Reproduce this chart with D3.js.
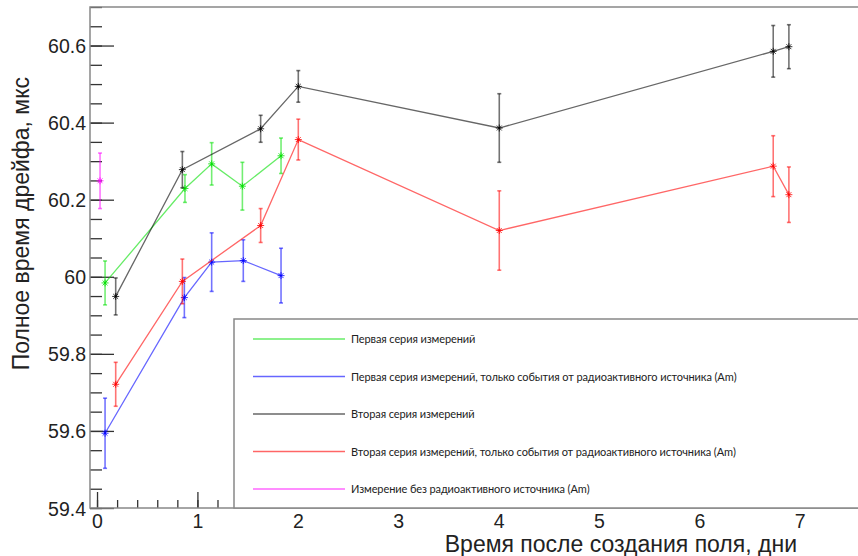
<!DOCTYPE html>
<html>
<head>
<meta charset="utf-8">
<script src="https://cdn.jsdelivr.net/npm/d3@7"></script>
<style>
  body { margin: 0; background: #fff; }
  svg { display: block; }
  .axis path { display: none; }
  .axis line { stroke: #333; stroke-width: 1.3; }
  .axis text { font-family: "Liberation Sans", Arial, sans-serif; font-size: 19.5px; fill: #222; }
</style>
</head>
<body>
<script>
var width = 858,
    height = 556;

// series data
var greenX = [0.08, 0.876, 1.142, 1.448, 1.833],
    greenY = [59.984, 60.229, 60.293, 60.235, 60.314],
    greenErr = [0.057, 0.036, 0.055, 0.062, 0.046];
var blueX = [0.08, 0.87, 1.142, 1.457, 1.833],
    blueY = [59.594, 59.946, 60.038, 60.042, 60.003],
    blueErr = [0.091, 0.052, 0.076, 0.054, 0.071];
var blackX = [0.186, 0.85, 1.63, 2.005, 4.007, 6.736, 6.892],
    blackY = [59.949, 60.278, 60.384, 60.494, 60.386, 60.585, 60.597],
    blackErr = [0.048, 0.047, 0.035, 0.041, 0.089, 0.067, 0.057];
var redX = [0.186, 0.85, 1.63, 2.005, 4.007, 6.736, 6.892],
    redY = [59.721, 59.988, 60.133, 60.356, 60.12, 60.287, 60.213],
    redErr = [0.057, 0.058, 0.044, 0.053, 0.103, 0.079, 0.072];
var magentaX = [0.03],
    magentaY = [60.249],
    magentaErr = [0.072];

var names = [
    "Первая серия измерений",
    "Первая серия измерений, только события от радиоактивного источника (Am)",
    "Вторая серия измерений",
    "Вторая серия измерений, только события от радиоактивного источника (Am)",
    "Измерение без радиоактивного источника (Am)"
];
var colors = ["#00e000", "#0000ff", "#000000", "#ff0000", "#ff00ff"];

var xTicks = [0, 1, 2, 3, 4, 5, 6, 7];
var yTicks = [59.4, 59.6, 59.8, 60, 60.2, 60.4, 60.6];

var series = [
    {x: greenX, y: greenY, e: greenErr},
    {x: blueX, y: blueY, e: blueErr},
    {x: blackX, y: blackY, e: blackErr},
    {x: redX, y: redY, e: redErr},
    {x: magentaX, y: magentaY, e: magentaErr}
];

var padL = 90, padR = 870, padT = 7, padB = 508;

var x = d3.scaleLinear().domain([-0.07, 7.7]).range([padL, padR]);
var y = d3.scaleLinear().domain([59.4, 60.7]).range([padB, padT]);

var svg = d3.select("body").append("svg")
    .attr("width", width)
    .attr("height", height);

// minor ticks
svg.append("g").attr("class", "axis")
    .attr("transform", "translate(" + padL + ",0)")
    .call(d3.axisLeft(y).ticks(26).tickSize(-12).tickFormat(""));
svg.append("g").attr("class", "axis")
    .attr("transform", "translate(0," + padB + ")")
    .call(d3.axisBottom(x).ticks(40).tickSize(-8).tickFormat(""));

// major ticks + labels
svg.append("g").attr("class", "axis")
    .attr("transform", "translate(" + padL + ",0)")
    .call(d3.axisLeft(y).tickValues(yTicks).tickSize(-24).tickPadding(4)
        .tickFormat(function(d) { return String(+d.toFixed(1)); }))
    .selectAll("text").attr("dy", "0.36em");
svg.append("g").attr("class", "axis")
    .attr("transform", "translate(0," + padB + ")")
    .call(d3.axisBottom(x).tickValues(xTicks).tickSize(-16).tickPadding(6));

// frame
svg.append("rect")
    .attr("x", padL).attr("y", padT)
    .attr("width", padR - padL).attr("height", padB - padT)
    .attr("fill", "none").attr("stroke", "#888").attr("stroke-width", 1.5);

var line = d3.line()
    .x(function(d) { return x(d[0]); })
    .y(function(d) { return y(d[1]); });

series.forEach(function(s, i) {
    var pts = s.x.map(function(v, j) { return [v, s.y[j], s.e[j]]; });
    var g = svg.append("g").attr("stroke", colors[i]).attr("fill", "none");

    if (pts.length > 1) {
        g.append("path").attr("d", line(pts))
            .attr("stroke-opacity", 0.6).attr("stroke-width", 1.3);
    }

    pts.forEach(function(p) {
        var px = x(p[0]), py = y(p[1]), y1 = y(p[1] + p[2]), y2 = y(p[1] - p[2]);
        var eb = g.append("g").attr("stroke-opacity", 0.55).attr("stroke-width", 1.6);
        eb.append("line").attr("x1", px).attr("x2", px).attr("y1", y1).attr("y2", y2);
        eb.append("line").attr("x1", px - 2).attr("x2", px + 2).attr("y1", y1).attr("y2", y1);
        eb.append("line").attr("x1", px - 2).attr("x2", px + 2).attr("y1", y2).attr("y2", y2);

        // star marker
        var r = 3.5, m = g.append("g").attr("stroke-width", 1).attr("stroke-opacity", 0.8);
        m.append("line").attr("x1", px - r).attr("x2", px + r).attr("y1", py).attr("y2", py);
        m.append("line").attr("x1", px).attr("x2", px).attr("y1", py - r).attr("y2", py + r);
        m.append("line").attr("x1", px - r * 0.7).attr("x2", px + r * 0.7).attr("y1", py - r * 0.7).attr("y2", py + r * 0.7);
        m.append("line").attr("x1", px - r * 0.7).attr("x2", px + r * 0.7).attr("y1", py + r * 0.7).attr("y2", py - r * 0.7);
    });
});

// legend
var lg = svg.append("g");
lg.append("rect")
    .attr("x", 234).attr("y", 319)
    .attr("width", 700).attr("height", padB - 319)
    .attr("fill", "#fff").attr("stroke", "#888").attr("stroke-width", 1.5);

names.forEach(function(n, i) {
    var ly = 339 + i * 37.5;
    lg.append("line")
        .attr("x1", 253).attr("x2", 345).attr("y1", ly).attr("y2", ly)
        .attr("stroke", colors[i]).attr("stroke-opacity", 0.6).attr("stroke-width", 1.5);
    lg.append("text")
        .attr("x", 351).attr("y", ly + 4)
        .attr("font-family", "Lato, 'Open Sans', sans-serif")
        .attr("font-size", 11)
        .attr("letter-spacing", -0.1)
        .attr("fill", "#222")
        .text(n);
});

// axis titles
svg.append("text")
    .attr("x", 797).attr("y", 552)
    .attr("text-anchor", "end")
    .attr("font-family", "'Liberation Sans', Arial, sans-serif")
    .attr("font-size", 23)
    .attr("fill", "#222")
    .text("Время после создания поля, дни");

svg.append("text")
    .attr("transform", "translate(29,77) rotate(-90)")
    .attr("text-anchor", "end")
    .attr("font-family", "'Liberation Sans', Arial, sans-serif")
    .attr("font-size", 23)
    .attr("fill", "#222")
    .text("Полное время дрейфа, мкс");
</script>
</body>
</html>
